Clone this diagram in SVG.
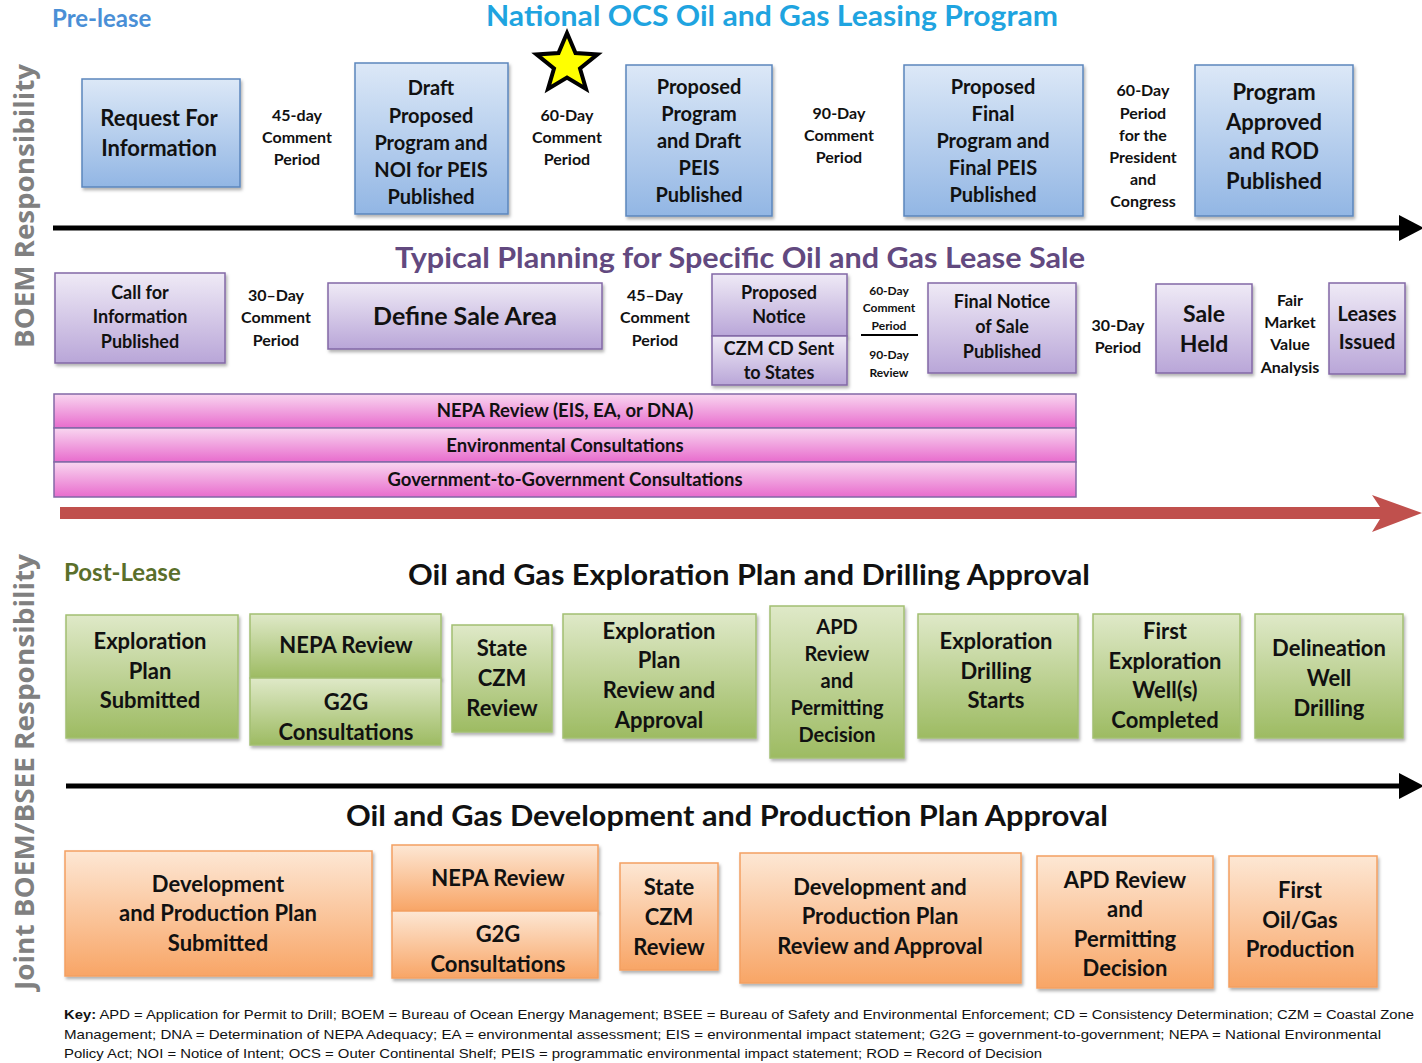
<svg xmlns="http://www.w3.org/2000/svg" width="1422" height="1063" viewBox="0 0 1422 1063">
<defs>
<linearGradient id="gBlue" x1="0" y1="0" x2="0" y2="1"><stop offset="0" stop-color="#dce8f7"/><stop offset="1" stop-color="#92b6e4"/></linearGradient>
<linearGradient id="gPurple" x1="0" y1="0" x2="0" y2="1"><stop offset="0" stop-color="#efeaf6"/><stop offset="1" stop-color="#b9a6d8"/></linearGradient>
<linearGradient id="gPink" x1="0" y1="0" x2="0" y2="1"><stop offset="0" stop-color="#f9d6f0"/><stop offset="1" stop-color="#e86ccd"/></linearGradient>
<linearGradient id="gGreen" x1="0" y1="0" x2="0" y2="1"><stop offset="0" stop-color="#dfe9c8"/><stop offset="1" stop-color="#9dbb62"/></linearGradient>
<linearGradient id="gOrange" x1="0" y1="0" x2="0" y2="1"><stop offset="0" stop-color="#fde7d4"/><stop offset="1" stop-color="#f8a566"/></linearGradient>
<filter id="sh" x="-10%" y="-10%" width="125%" height="130%"><feDropShadow dx="1.5" dy="2.5" stdDeviation="1.8" flood-color="#000" flood-opacity="0.3"/></filter>
<marker id="blk" markerWidth="6" markerHeight="6" refX="1" refY="3" orient="auto" markerUnits="strokeWidth"><path d="M0,0.4 L5,3 L0,5.6 z" fill="#000"/></marker>
</defs>
<style>
text{font-family:Lato,"Open Sans","Liberation Sans",sans-serif;font-weight:700;text-anchor:middle;fill:#111}
.b{fill:url(#gBlue);stroke:#5b86bd;stroke-width:1.5;filter:url(#sh)}
.p{fill:url(#gPurple);stroke:#8268a6;stroke-width:1.5;filter:url(#sh)}
.pk{fill:url(#gPink);stroke:#8268a6;stroke-width:1.5}
.g{fill:url(#gGreen);stroke:#a3bf72;stroke-width:1.5;filter:url(#sh)}
.o{fill:url(#gOrange);stroke:#f3a062;stroke-width:1.5;filter:url(#sh)}
.t20{font-size:20px}.t22{font-size:22px}.t18{font-size:18px}.t16{font-size:16px}.t17{font-size:18.5px}.t12{font-size:12px}
.side{font-family:"Open Sans","DejaVu Sans",sans-serif;font-size:26px;fill:#808080}
.key{font-family:"Liberation Sans",Arial,sans-serif;font-weight:400;font-size:13px;text-anchor:start;fill:#111}
</style>
<rect width="1422" height="1063" fill="#fff"/>

<!-- side labels -->
<text class="side" transform="translate(34,206) rotate(-90)" textLength="284" lengthAdjust="spacingAndGlyphs">BOEM Responsibility</text>
<text class="side" transform="translate(34,772) rotate(-90)" textLength="436" lengthAdjust="spacingAndGlyphs">Joint BOEM/BSEE Responsibility</text>

<!-- titles -->
<text x="52" y="27" style="font-size:24px;text-anchor:start;fill:#4a8fd6">Pre-lease</text>
<text x="772" y="26" style="font-size:28px;fill:#1fa4e0" textLength="572" lengthAdjust="spacingAndGlyphs">National OCS Oil and Gas Leasing Program</text>
<text x="740" y="268" style="font-size:28px;fill:#62497f" textLength="690" lengthAdjust="spacingAndGlyphs">Typical Planning for Specific Oil and Gas Lease Sale</text>
<text x="64" y="581" style="font-size:24px;text-anchor:start;fill:#5a6f2a">Post-Lease</text>
<text x="749" y="585" style="font-size:29px;fill:#111" textLength="682" lengthAdjust="spacingAndGlyphs">Oil and Gas Exploration Plan and Drilling Approval</text>
<text x="727" y="826" style="font-size:29px;fill:#111" textLength="762" lengthAdjust="spacingAndGlyphs">Oil and Gas Development and Production Plan Approval</text>

<!-- connectors / timelines -->
<g id="connectors">
<line x1="53" y1="228" x2="1404" y2="228" stroke="#000" stroke-width="5" marker-end="url(#blk)"/>
<path d="M60,507 L1380,507 L1372,495 L1422,513 L1372,532 L1380,519 L60,519 z" fill="#c0504d"/>
<line x1="66" y1="786" x2="1404" y2="786" stroke="#000" stroke-width="5" marker-end="url(#blk)"/>
</g>

<!-- star -->
<polygon id="star" points="567,33 575.5,53 597.5,54.4 580,68.5 586,89 567,77.5 548,89 554,68.5 536.5,54.4 558.5,53" fill="#ffff00" stroke="#000" stroke-width="4" stroke-linejoin="miter"/>

<!-- section 1 -->
<g id="rfi"><rect class="b" x="82" y="79" width="158" height="108"/><text class="t22" x="159" y="126">Request For</text><text class="t22" x="159" y="156">Information</text></g>
<g id="lbl45"><text class="t16" x="297" y="121">45-day</text><text class="t16" x="297" y="143">Comment</text><text class="t16" x="297" y="165">Period</text></g>
<g id="dpp"><rect class="b" x="355" y="63" width="153" height="151"/><text class="t20" x="431" y="95">Draft</text><text class="t20" x="431" y="123">Proposed</text><text class="t20" x="431" y="150">Program and</text><text class="t20" x="431" y="177">NOI for PEIS</text><text class="t20" x="431" y="204">Published</text></g>
<g id="lbl60a"><text class="t16" x="567" y="121">60-Day</text><text class="t16" x="567" y="143">Comment</text><text class="t16" x="567" y="165">Period</text></g>
<g id="pp"><rect class="b" x="626" y="65" width="146" height="151"/><text class="t20" x="699" y="94">Proposed</text><text class="t20" x="699" y="121">Program</text><text class="t20" x="699" y="148">and Draft</text><text class="t20" x="699" y="175">PEIS</text><text class="t20" x="699" y="202">Published</text></g>
<g id="lbl90"><text class="t16" x="839" y="119">90-Day</text><text class="t16" x="839" y="141">Comment</text><text class="t16" x="839" y="163">Period</text></g>
<g id="pfp"><rect class="b" x="904" y="65" width="179" height="151"/><text class="t20" x="993" y="94">Proposed</text><text class="t20" x="993" y="121">Final</text><text class="t20" x="993" y="148">Program and</text><text class="t20" x="993" y="175">Final PEIS</text><text class="t20" x="993" y="202">Published</text></g>
<g id="lbl60b"><text class="t16" x="1143" y="96">60-Day</text><text class="t16" x="1143" y="119">Period</text><text class="t16" x="1143" y="141">for the</text><text class="t16" x="1143" y="163">President</text><text class="t16" x="1143" y="185">and</text><text class="t16" x="1143" y="207">Congress</text></g>
<g id="pa"><rect class="b" x="1195" y="65" width="158" height="151"/><text class="t22" x="1274" y="100">Program</text><text class="t22" x="1274" y="130">Approved</text><text class="t22" x="1274" y="159">and ROD</text><text class="t22" x="1274" y="189">Published</text></g>

<!-- section 2 -->
<g id="cfi"><rect class="p" x="55" y="273" width="170" height="90"/><text class="t18" x="140" y="299">Call for</text><text class="t18" x="140" y="323">Information</text><text class="t18" x="140" y="348">Published</text></g>
<g id="lbl30"><text class="t16" x="276" y="301">30–Day</text><text class="t16" x="276" y="323">Comment</text><text class="t16" x="276" y="346">Period</text></g>
<g id="dsa"><rect class="p" x="328" y="283" width="274" height="66"/><text x="465" y="325" style="font-size:25px">Define Sale Area</text></g>
<g id="lbl45b"><text class="t16" x="655" y="301">45–Day</text><text class="t16" x="655" y="323">Comment</text><text class="t16" x="655" y="346">Period</text></g>
<g id="pn"><rect class="p" x="712" y="274" width="135" height="62"/><rect class="p" x="712" y="336" width="135" height="49"/><text class="t18" x="779" y="299">Proposed</text><text class="t18" x="779" y="323">Notice</text><text class="t18" x="779" y="355">CZM CD Sent</text><text class="t18" x="779" y="379">to States</text></g>
<g id="lblsmall"><text class="t12" x="889" y="295">60-Day</text><text class="t12" x="889" y="312">Comment</text><text class="t12" x="889" y="330">Period</text><line x1="861" y1="335" x2="918" y2="335" stroke="#000" stroke-width="2"/><text class="t12" x="889" y="359">90-Day</text><text class="t12" x="889" y="377">Review</text></g>
<g id="fns"><rect class="p" x="928" y="283" width="148" height="90"/><text class="t18" x="1002" y="308">Final Notice</text><text class="t18" x="1002" y="333">of Sale</text><text class="t18" x="1002" y="358">Published</text></g>
<g id="lbl30b"><text class="t16" x="1118" y="331">30-Day</text><text class="t16" x="1118" y="353">Period</text></g>
<g id="sh1"><rect class="p" x="1156" y="284" width="96" height="89"/><text x="1204" y="322" style="font-size:23px">Sale</text><text x="1204" y="352" style="font-size:23px">Held</text></g>
<g id="lblfmv"><text class="t16" x="1290" y="306">Fair</text><text class="t16" x="1290" y="328">Market</text><text class="t16" x="1290" y="350">Value</text><text class="t16" x="1290" y="373">Analysis</text></g>
<g id="li"><rect class="p" x="1329" y="283" width="76" height="91"/><text class="t20" x="1367" y="321">Leases</text><text class="t20" x="1367" y="349">Issued</text></g>
<g id="bars">
<rect class="pk" x="54" y="394" width="1022" height="34"/><text class="t17" x="565" y="417">NEPA Review (EIS, EA, or DNA)</text>
<rect class="pk" x="54" y="428" width="1022" height="34"/><text class="t17" x="565" y="452">Environmental Consultations</text>
<rect class="pk" x="54" y="462" width="1022" height="35"/><text class="t17" x="565" y="486">Government-to-Government Consultations</text>
</g>

<!-- section 3 -->
<g id="eps"><rect class="g" x="66" y="615" width="172" height="123"/><text class="t22" x="150" y="649">Exploration</text><text class="t22" x="150" y="679">Plan</text><text class="t22" x="150" y="708">Submitted</text></g>
<g id="nepa1"><rect class="g" x="250" y="614" width="191" height="64"/><rect class="g" x="250" y="678" width="191" height="67"/><text class="t22" x="346" y="653">NEPA Review</text><text class="t22" x="346" y="710">G2G</text><text class="t22" x="346" y="740">Consultations</text></g>
<g id="czm1"><rect class="g" x="452" y="625" width="100" height="107"/><text class="t22" x="502" y="656">State</text><text class="t22" x="502" y="686">CZM</text><text class="t22" x="502" y="716">Review</text></g>
<g id="epra"><rect class="g" x="563" y="614" width="193" height="124"/><text class="t22" x="659" y="639">Exploration</text><text class="t22" x="659" y="668">Plan</text><text class="t22" x="659" y="698">Review and</text><text class="t22" x="659" y="728">Approval</text></g>
<g id="apd1"><rect class="g" x="770" y="606" width="134" height="152"/><text class="t20" x="837" y="634">APD</text><text class="t20" x="837" y="661">Review</text><text class="t20" x="837" y="688">and</text><text class="t20" x="837" y="715">Permitting</text><text class="t20" x="837" y="742">Decision</text></g>
<g id="eds"><rect class="g" x="918" y="614" width="160" height="124"/><text class="t22" x="996" y="649">Exploration</text><text class="t22" x="996" y="679">Drilling</text><text class="t22" x="996" y="708">Starts</text></g>
<g id="few"><rect class="g" x="1093" y="614" width="147" height="124"/><text class="t22" x="1165" y="639">First</text><text class="t22" x="1165" y="669">Exploration</text><text class="t22" x="1165" y="698">Well(s)</text><text class="t22" x="1165" y="728">Completed</text></g>
<g id="dwd"><rect class="g" x="1255" y="614" width="148" height="124"/><text class="t22" x="1329" y="656">Delineation</text><text class="t22" x="1329" y="686">Well</text><text class="t22" x="1329" y="716">Drilling</text></g>

<!-- section 4 -->
<g id="dps"><rect class="o" x="65" y="851" width="307" height="125"/><text class="t22" x="218" y="892">Development</text><text class="t22" x="218" y="921">and Production Plan</text><text class="t22" x="218" y="951">Submitted</text></g>
<g id="nepa2"><rect class="o" x="392" y="845" width="206" height="66"/><rect class="o" x="392" y="911" width="206" height="67"/><text class="t22" x="498" y="886">NEPA Review</text><text class="t22" x="498" y="942">G2G</text><text class="t22" x="498" y="972">Consultations</text></g>
<g id="czm2"><rect class="o" x="620" y="863" width="98" height="107"/><text class="t22" x="669" y="895">State</text><text class="t22" x="669" y="925">CZM</text><text class="t22" x="669" y="955">Review</text></g>
<g id="dpra"><rect class="o" x="740" y="853" width="281" height="130"/><text class="t22" x="880" y="895">Development and</text><text class="t22" x="880" y="924">Production Plan</text><text class="t22" x="880" y="954">Review and Approval</text></g>
<g id="apd2"><rect class="o" x="1037" y="856" width="176" height="132"/><text class="t22" x="1125" y="888">APD Review</text><text class="t22" x="1125" y="917">and</text><text class="t22" x="1125" y="947">Permitting</text><text class="t22" x="1125" y="976">Decision</text></g>
<g id="fop"><rect class="o" x="1229" y="856" width="148" height="131"/><text class="t22" x="1300" y="898">First</text><text class="t22" x="1300" y="928">Oil/Gas</text><text class="t22" x="1300" y="957">Production</text></g>

<!-- key -->
<text class="key" x="64" y="1019" textLength="1350" lengthAdjust="spacingAndGlyphs"><tspan font-weight="700">Key:</tspan> APD = Application for Permit to Drill; BOEM = Bureau of Ocean Energy Management; BSEE = Bureau of Safety and Environmental Enforcement; CD = Consistency Determination; CZM = Coastal Zone</text>
<text class="key" x="64" y="1039" textLength="1317" lengthAdjust="spacingAndGlyphs">Management; DNA = Determination of NEPA Adequacy; EA = environmental assessment; EIS = environmental impact statement; G2G = government-to-government; NEPA = National Environmental</text>
<text class="key" x="64" y="1058" textLength="978" lengthAdjust="spacingAndGlyphs">Policy Act; NOI = Notice of Intent; OCS = Outer Continental Shelf; PEIS = programmatic environmental impact statement; ROD = Record of Decision</text>
</svg>
